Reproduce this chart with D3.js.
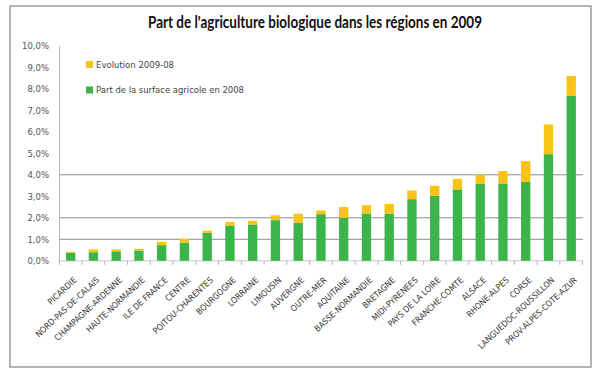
<!DOCTYPE html>
<html><head><meta charset="utf-8">
<script src="https://cdn.jsdelivr.net/npm/d3@7"></script>
<style>body{margin:0;background:#fff}svg{display:block}</style>
</head><body>
<svg id="c" width="600" height="381"></svg>
<script>
const categories = ["PICARDIE","NORD-PAS-DE-CALAIS","CHAMPAGNE-ARDENNE","HAUTE-NORMANDIE","ILE DE FRANCE","CENTRE","POITOU-CHARENTES","BOURGOGNE","LORRAINE","LIMOUSIN","AUVERGNE","OUTRE-MER","AQUITAINE","BASSE-NORMANDIE","BRETAGNE","MIDI-PYRENEES","PAYS DE LA LOIRE","FRANCHE-COMTE","ALSACE","RHONE-ALPES","CORSE","LANGUEDOC-ROUSSILLON","PROV-ALPES-COTE-AZUR"];
const part2008 = [0.37,0.40,0.44,0.48,0.73,0.85,1.30,1.64,1.69,1.89,1.77,2.17,2.00,2.20,2.20,2.87,3.02,3.32,3.57,3.60,3.67,4.96,7.67];
const evolution = [0.05,0.13,0.09,0.08,0.15,0.17,0.10,0.17,0.17,0.23,0.42,0.17,0.50,0.39,0.44,0.40,0.47,0.49,0.43,0.57,0.97,1.38,0.93];
const yTicks = [0,1,2,3,4,5,6,7,8,9,10];
const gridValues = [1,2,4];
const seriesNames = ["Evolution 2009-08","Part de la surface agricole en 2008"];
const colors = {green:"#3bb54a", yellow:"#f9c416"};

const svg = d3.select("#c");
svg.append("rect").attr("x",10).attr("y",6).attr("width",581).attr("height",361)
  .attr("fill","#fff").attr("stroke","#9a9a9a").attr("stroke-width",1.5);

svg.append("text").attr("x",315).attr("y",28).attr("text-anchor","middle")
  .attr("font-family","Lato, 'Open Sans', sans-serif").attr("font-weight","bold")
  .attr("font-size",17).attr("fill","#111")
  .attr("textLength",334).attr("lengthAdjust","spacingAndGlyphs")
  .text("Part de l'agriculture biologique dans les régions en 2009");

const x = d3.scaleBand().domain(categories).range([59.3,582.6]).paddingInner(0.59).paddingOuter(0.295);
const y = d3.scaleLinear().domain([0,10]).range([260.8,45.8]);

// gridlines
svg.append("g").selectAll("line").data(gridValues).join("line")
  .attr("x1",59).attr("x2",583).attr("y1",d=>y(d)).attr("y2",d=>y(d))
  .attr("stroke","#8c8c8c").attr("stroke-width",1);

// y axis
const yAxis = d3.axisLeft(y).tickValues(yTicks).tickSize(0).tickPadding(10)
  .tickFormat(d=>d3.format(".1f")(d).replace(".",",")+"%");
const gy = svg.append("g").attr("transform","translate(59,0)").call(yAxis);
gy.select(".domain").attr("stroke","#b5b5b5");
gy.selectAll("text").attr("font-family","'DejaVu Sans', sans-serif").attr("font-size",8.5).attr("fill","#555");

// x axis ticks (between categories)
const step = x.step();
const gap = step - x.bandwidth();
const boundaries = categories.map(c=> x(c) - gap/2).concat([x(categories[categories.length-1]) + x.bandwidth() + gap/2]);
svg.append("g").selectAll("line").data(boundaries).join("line")
  .attr("x1",d=>d).attr("x2",d=>d).attr("y1",y(0)).attr("y2",y(0)+4)
  .attr("stroke","#b5b5b5");
svg.append("line").attr("x1",59).attr("x2",583).attr("y1",y(0)).attr("y2",y(0)).attr("stroke","#c8c8c8");

// bars
const stacked = categories.map((c,i)=>({c, g:part2008[i], e:evolution[i]}));
svg.append("g").selectAll("rect").data(stacked).join("rect")
  .attr("x",d=>x(d.c)).attr("width",x.bandwidth())
  .attr("y",d=>y(d.g)).attr("height",d=>y(0)-y(d.g)).attr("fill",colors.green);
svg.append("g").selectAll("rect").data(stacked).join("rect")
  .attr("x",d=>x(d.c)).attr("width",x.bandwidth())
  .attr("y",d=>y(d.g+d.e)).attr("height",d=>y(d.g)-y(d.g+d.e)).attr("fill",colors.yellow);

// x labels
svg.append("g").selectAll("text").data(categories).join("text")
  .attr("transform",d=>`translate(${x(d)+x.bandwidth()/2+6.5},${y(0)+20}) rotate(-43)`)
  .attr("text-anchor","end")
  .attr("font-family","'DejaVu Sans Condensed', sans-serif").attr("font-size",8.5)
  .attr("fill","#333").text(d=>d);

// legend
const leg = svg.append("g");
const legItems = [{name:seriesNames[0],col:colors.yellow,y:64.5,w:78},{name:seriesNames[1],col:colors.green,y:90,w:148}];
leg.selectAll("rect").data(legItems).join("rect")
  .attr("x",86).attr("y",d=>d.y-3.5).attr("width",7).attr("height",7).attr("fill",d=>d.col);
leg.selectAll("text").data(legItems).join("text")
  .attr("x",96).attr("y",d=>d.y+3).attr("font-family","'DejaVu Sans', sans-serif")
  .attr("font-size",9).attr("fill","#444")
  .attr("textLength",d=>d.w).attr("lengthAdjust","spacingAndGlyphs").text(d=>d.name);
</script>
</body></html>
